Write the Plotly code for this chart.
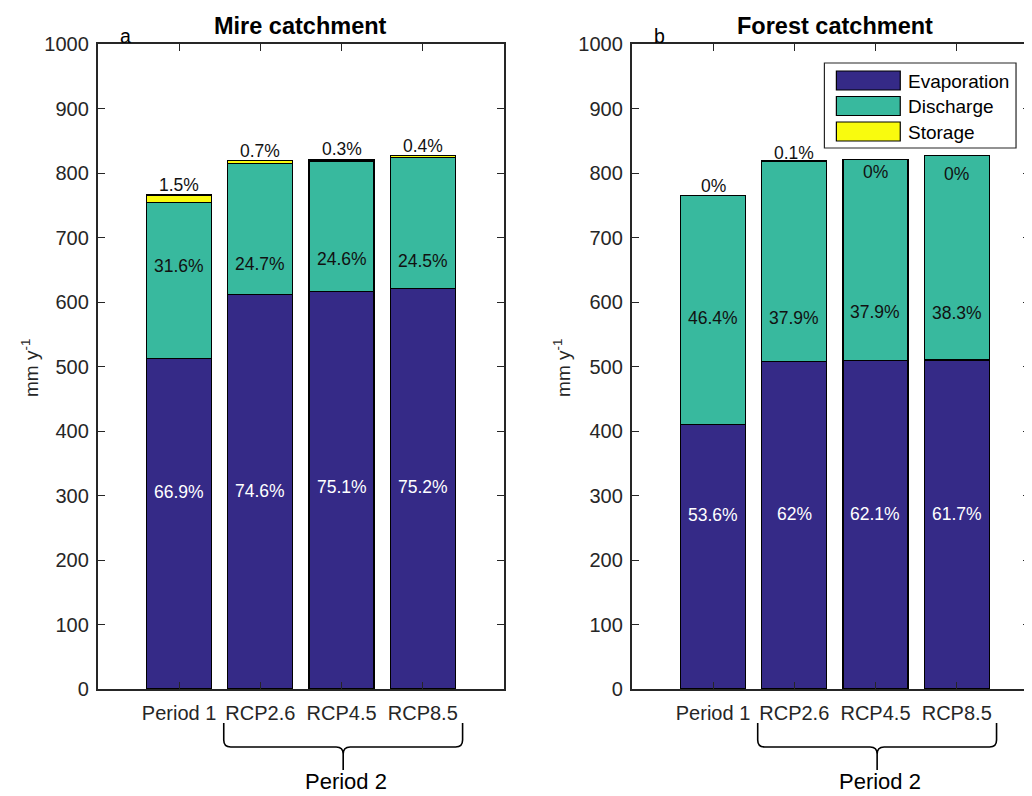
import plotly.graph_objects as go

# ---------------- data (mm per year) ----------------
categories = ["Period 1", "RCP2.6", "RCP4.5", "RCP8.5"]
x_pos = [1, 2, 3, 4]

mire_evaporation = [512.5, 611.7, 616.6, 621.0]
mire_discharge = [242.1, 202.5, 202.0, 202.5]
mire_storage = [11.5, 5.7, 2.5, 3.3]
mire_evap_pct = ["66.9%", "74.6%", "75.1%", "75.2%"]
mire_disch_pct = ["31.6%", "24.7%", "24.6%", "24.5%"]
mire_stor_pct = ["1.5%", "0.7%", "0.3%", "0.4%"]

forest_evaporation = [410.0, 508.0, 509.5, 510.2]
forest_discharge = [355.0, 310.5, 311.0, 316.7]
forest_storage = [0.0, 0.8, 0.0, 0.0]
forest_evap_pct = ["53.6%", "62%", "62.1%", "61.7%"]
forest_disch_pct = ["46.4%", "37.9%", "37.9%", "38.3%"]
forest_stor_pct = ["0%", "0.1%", "0%", "0%"]

series_names = ["Evaporation", "Discharge", "Storage"]

# ---------------- style ----------------
OFF = 8                      # page body margin of the html page
W, H = 1032 - OFF, 796 - OFF
T, B = 44 - OFF, 107
FONT = "Liberation Sans, Arial, sans-serif"
AXC = "#262626"
colors = {"Evaporation": "#352a87", "Discharge": "#38b99e", "Storage": "#f9fb0e"}


def px(x):
    """screen pixel x -> paper x"""
    return (x - OFF) / W


def py(y):
    """screen pixel y -> paper y"""
    return (689 - y) / 645


# label placement (in axis units) for percent labels
label_style = {
    "mire": dict(evap_y=[305, 307, 313, 313], disch_y=[656, 659, 667, 664],
                 stor_shift=[10, 9, 10, 10]),
    "forest": dict(evap_y=[270, 271, 271, 271], disch_y=[575, 575, 584, 583],
                   stor_shift=[10, 8, -12, -18]),
}

panels = [
    ("x", "y", "mire", "Mire catchment", "a", 30,
     [mire_evaporation, mire_discharge, mire_storage],
     [mire_evap_pct, mire_disch_pct, mire_stor_pct]),
    ("x2", "y2", "forest", "Forest catchment", "b", 563,
     [forest_evaporation, forest_discharge, forest_storage],
     [forest_evap_pct, forest_disch_pct, forest_stor_pct]),
]

fig = go.Figure()
annotations = []
shapes = []

for xa, ya, key, title, letter, ytitle_x, vals, pcts in panels:
    for name, v in zip(series_names, vals):
        fig.add_trace(go.Bar(
            x=x_pos, y=v, name=name, xaxis=xa, yaxis=ya, width=0.8,
            marker=dict(color=colors[name], line=dict(color="black", width=1.3)),
            showlegend=False,
        ))
    st = label_style[key]
    ev, di, so = vals
    for i, xv in enumerate(x_pos):
        annotations.append(dict(x=xv, y=st["evap_y"][i], xref=xa, yref=ya, text=pcts[0][i],
                                showarrow=False, font=dict(family=FONT, size=17.5, color="white")))
        annotations.append(dict(x=xv, y=st["disch_y"][i], xref=xa, yref=ya, text=pcts[1][i],
                                showarrow=False, font=dict(family=FONT, size=17.5, color="#111111")))
        total = ev[i] + di[i] + so[i]
        annotations.append(dict(x=xv, y=total, xref=xa, yref=ya, text=pcts[2][i],
                                showarrow=False, yanchor="middle", yshift=st["stor_shift"][i],
                                font=dict(family=FONT, size=17.5, color="#111111")))
    # title and panel letter
    annotations.append(dict(x=2.5, y=py(26), xref=xa, yref="paper", text="<b>%s</b>" % title,
                            showarrow=False, yanchor="middle",
                            font=dict(family=FONT, size=23.5, color="black")))
    annotations.append(dict(x=0.34, y=py(36), xref=xa, yref="paper", text=letter,
                            showarrow=False, yanchor="middle",
                            font=dict(family=FONT, size=19.5, color="black")))
    # y-axis title
    annotations.append(dict(x=px(ytitle_x), y=py(368), xref="paper", yref="paper",
                            text="mm y<sup>-1</sup>",
                            showarrow=False, textangle=-90, xanchor="center", yanchor="middle",
                            font=dict(family=FONT, size=19, color=AXC)))
    # brace under Period 2 bars
    x0, xm, x1 = 1.55, 3.02, 4.49
    d = 0.086
    yt, yh, ys, yb = py(723), py(747), py(754), py(770)
    yc = py(740)
    path = (f"M {x0},{yt} L {x0},{yc} Q {x0},{yh} {x0 + d},{yh} L {xm - d},{yh} "
            f"Q {xm},{yh} {xm},{ys} L {xm},{yb} M {xm},{ys} Q {xm},{yh} {xm + d},{yh} "
            f"L {x1 - d},{yh} Q {x1},{yh} {x1},{yc} L {x1},{yt}")
    shapes.append(dict(type="path", xref=xa, yref="paper", path=path,
                       line=dict(color="black", width=1.6)))
    annotations.append(dict(x=3.06, y=py(781), xref=xa, yref="paper", text="Period 2",
                            showarrow=False, yanchor="middle",
                            font=dict(family=FONT, size=22, color="black")))

# manual legend (box with large swatches)
shapes.append(dict(type="rect", xref="paper", yref="paper", x0=px(826), x1=px(1018),
                   y0=py(148), y1=py(63), line=dict(color="#262626", width=1.2),
                   fillcolor="white", layer="above"))
for k, name in enumerate(series_names):
    top = 71 + k * 25.5
    shapes.append(dict(type="rect", xref="paper", yref="paper", x0=px(838), x1=px(902),
                       y0=py(top + 19), y1=py(top), line=dict(color="black", width=1.2),
                       fillcolor=colors[name], layer="above"))
    annotations.append(dict(x=px(908), y=py(top + 10), xref="paper", yref="paper", text=name,
                            showarrow=False, xanchor="left", yanchor="middle",
                            font=dict(family=FONT, size=19, color="black")))

axis_common = dict(
    showline=True, linecolor=AXC, linewidth=2, mirror="ticks", ticks="inside", ticklen=7,
    tickcolor=AXC, tickwidth=1.3, showgrid=False, zeroline=False,
    tickfont=dict(family=FONT, size=20, color=AXC),
)

fig.update_layout(
    width=W, height=H, barmode="stack", plot_bgcolor="white", paper_bgcolor="white",
    margin=dict(l=0, r=0, t=T, b=B),
    xaxis=dict(domain=[px(98), px(505)], range=[0, 5], tickvals=x_pos, ticktext=categories,
               anchor="y", ticklabelstandoff=5, **axis_common),
    yaxis=dict(domain=[0, 1], range=[0, 1000], dtick=100, anchor="x",
               ticklabelstandoff=3, **axis_common),
    xaxis2=dict(domain=[px(633), 1], range=[0, (1032 - 633) / 81.4], tickvals=x_pos,
                ticktext=categories, anchor="y2", ticklabelstandoff=5, **axis_common),
    yaxis2=dict(domain=[0, 1], range=[0, 1000], dtick=100, anchor="x2",
                ticklabelstandoff=3, **axis_common),
    annotations=annotations, shapes=shapes, showlegend=False,
)

fig.write_html("out.html")
